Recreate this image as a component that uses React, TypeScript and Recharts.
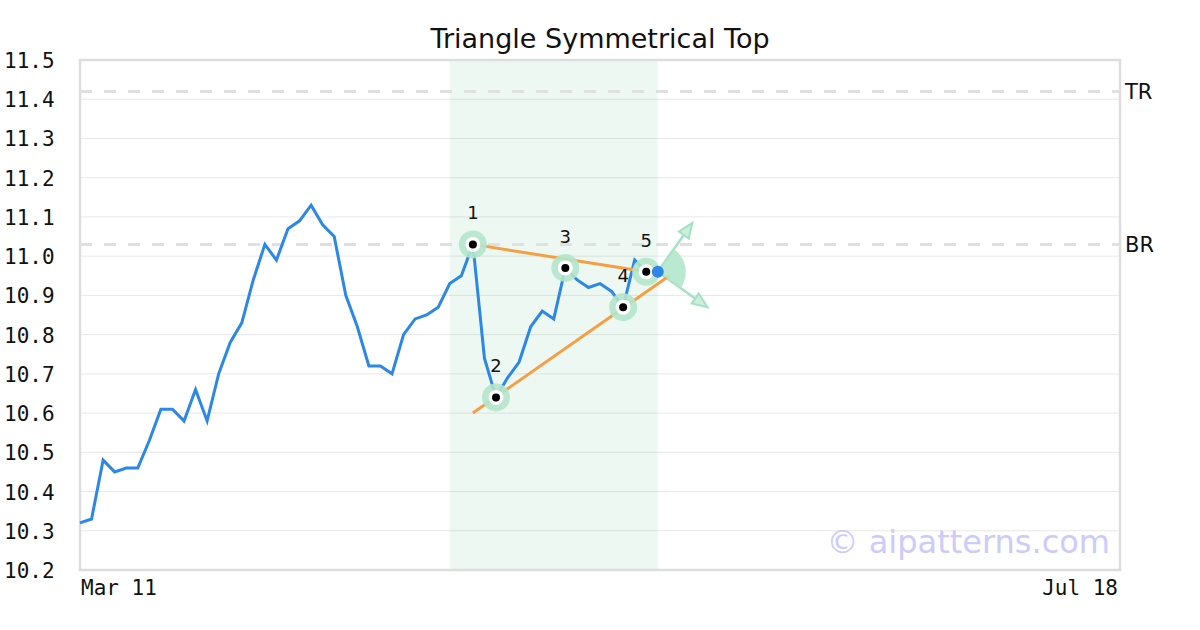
import {
  ComposedChart,
  Line,
  Scatter,
  XAxis,
  YAxis,
  CartesianGrid,
  ReferenceLine,
  ReferenceArea,
  ReferenceDot,
} from "recharts";

// closing prices, one per trading day from Mar 11
const prices = [
  10.32, 10.33, 10.48, 10.45, 10.46, 10.46, 10.53, 10.61, 10.61, 10.58, 10.66,
  10.58, 10.7, 10.78, 10.83, 10.94, 11.03, 10.99, 11.07, 11.09, 11.13, 11.08,
  11.05, 10.9, 10.82, 10.72, 10.72, 10.7, 10.8, 10.84, 10.85, 10.87, 10.93,
  10.95, 11.03, 10.74, 10.64, 10.69, 10.73, 10.82, 10.86, 10.84, 10.97, 10.94,
  10.92, 10.93, 10.91, 10.87, 10.99, 10.96, 10.96,
];
const lastIndex = 90;
const xTickLabels = ["Mar 11", "Jul 18"];
const yTicks = [
  10.2, 10.3, 10.4, 10.5, 10.6, 10.7, 10.8, 10.9, 11.0, 11.1, 11.2, 11.3, 11.4, 11.5,
];

const pivotIdx = [34, 36, 42, 47, 49];
const pivotVal = [11.03, 10.64, 10.97, 10.87, 10.96];
const pivotLabels = ["1", "2", "3", "4", "5"];

const upperLine = [
  { i: 34, v: 11.03 },
  { i: 49, v: 10.96 },
];
const lowerLine = [
  { i: 34, v: 10.6 },
  { i: 51, v: 10.95 },
];
const patternZone = [32, 50];
const topResistance = 11.42;
const bottomResistance = 11.03;
const breakout = { i: 50, v: 10.96 };
const arrowUp = { i: 53, v: 11.085 };
const arrowDown = { i: 54.3, v: 10.87 };

const priceData = prices.map((v, i) => ({ i, v }));
const pivots = pivotIdx.map((i, k) => ({ i, v: pivotVal[k], label: pivotLabels[k] }));

const MONO = "'DejaVu Sans Mono', monospace";
const SANS = "'DejaVu Sans', sans-serif";

const YTick = (p: any) => (
  <text x={4} y={p.y + 8} fontFamily={MONO} fontSize={21} fill="#111">
    {Number(p.payload.value).toFixed(1)}
  </text>
);

const XTick = (p: any) => {
  const first = p.payload.value === 0;
  return (
    <text
      x={first ? p.x + 1 : p.x - 2}
      y={p.y + 25}
      textAnchor={first ? "start" : "end"}
      fontFamily={MONO}
      fontSize={21}
      fill="#111"
    >
      {first ? xTickLabels[0] : xTickLabels[1]}
    </text>
  );
};

const PivotShape = (p: any) => (
  <g>
    <circle cx={p.cx} cy={p.cy} r={14} fill="#b3e5cb" fillOpacity={0.9} />
    <circle cx={p.cx} cy={p.cy} r={7.5} fill="#fff" />
    <circle cx={p.cx} cy={p.cy} r={4} fill="#000" />
    <text x={p.cx} y={p.cy - 25} textAnchor="middle" fontFamily={SANS} fontSize={18} fill="#111">
      {p.payload.label}
    </text>
  </g>
);

const BlueDot = (p: any) => <circle cx={p.cx} cy={p.cy} r={6} fill="#2b87e8" />;

const Wedge = (p: any) => {
  const r = 28;
  const a1 = (-54 * Math.PI) / 180;
  const a2 = (36 * Math.PI) / 180;
  const x1 = p.cx + r * Math.cos(a1);
  const y1 = p.cy + r * Math.sin(a1);
  const x2 = p.cx + r * Math.cos(a2);
  const y2 = p.cy + r * Math.sin(a2);
  return (
    <path
      d={`M${p.cx},${p.cy} L${x1},${y1} A${r},${r} 0 0 1 ${x2},${y2} Z`}
      fill="#b3e5cb"
      fillOpacity={0.9}
    />
  );
};

const Arrow = (p: any) => {
  const { x1, y1, x2, y2 } = p;
  const ang = Math.atan2(y2 - y1, x2 - x1);
  const len = 15;
  const half = 6;
  const bx = x2 - len * Math.cos(ang);
  const by = y2 - len * Math.sin(ang);
  const nx = -Math.sin(ang) * half;
  const ny = Math.cos(ang) * half;
  return (
    <g>
      <line x1={x1} y1={y1} x2={bx} y2={by} stroke="#a3e2c3" strokeWidth={2.5} />
      <path
        d={`M${x2},${y2} L${bx + nx},${by + ny} L${bx - nx},${by - ny} Z`}
        fill="#cdeedd"
        stroke="#a3e2c3"
        strokeWidth={2}
      />
    </g>
  );
};

export default function App() {
  return (
    <div style={{ position: "absolute", left: 0, top: 0, width: 1200, height: 630, background: "#fff" }}>
      <ComposedChart
        width={1200}
        height={630}
        data={priceData}
        margin={{ top: 60, right: 80, bottom: 0, left: 0 }}
      >
        <ReferenceArea
          x1={patternZone[0]}
          x2={patternZone[1]}
          y1={10.2}
          y2={11.5}
          fill="rgb(100,190,150)"
          fillOpacity={0.11}
          stroke="none"
        />
        <CartesianGrid vertical={false} stroke="#e8e8e8" strokeWidth={1} />
        <XAxis
          dataKey="i"
          type="number"
          domain={[0, lastIndex]}
          ticks={[0, lastIndex]}
          height={60}
          tickSize={0}
          tickMargin={0}
          axisLine={false}
          tickLine={false}
          tick={<XTick />}
        />
        <YAxis
          type="number"
          domain={[10.2, 11.5]}
          ticks={yTicks}
          width={80}
          axisLine={false}
          tickLine={false}
          tick={<YTick />}
        />
        <ReferenceLine
          y={topResistance}
          stroke="#e0e0e0"
          strokeWidth={3}
          strokeDasharray="12 12"
          label={{ value: "TR", position: "right", fill: "#111", fontSize: 21, fontFamily: SANS }}
        />
        <ReferenceLine
          y={bottomResistance}
          stroke="#e0e0e0"
          strokeWidth={3}
          strokeDasharray="12 12"
          label={{ value: "BR", position: "right", fill: "#111", fontSize: 21, fontFamily: SANS }}
        />
        <Line
          data={priceData}
          dataKey="v"
          type="linear"
          stroke="#2b87e8"
          strokeWidth={3}
          dot={false}
          isAnimationActive={false}
        />
        <ReferenceDot x={breakout.i} y={breakout.v} shape={<Wedge />} />
        <ReferenceLine
          segment={[
            { x: breakout.i, y: breakout.v },
            { x: arrowUp.i, y: arrowUp.v },
          ]}
          shape={<Arrow />}
        />
        <ReferenceLine
          segment={[
            { x: breakout.i, y: breakout.v },
            { x: arrowDown.i, y: arrowDown.v },
          ]}
          shape={<Arrow />}
        />
        <Line
          data={upperLine}
          dataKey="v"
          type="linear"
          stroke="#f59e42"
          strokeWidth={3}
          dot={false}
          isAnimationActive={false}
        />
        <Line
          data={lowerLine}
          dataKey="v"
          type="linear"
          stroke="#f59e42"
          strokeWidth={3}
          dot={false}
          isAnimationActive={false}
        />
        <Scatter data={pivots} dataKey="v" shape={<PivotShape />} isAnimationActive={false} />
        <Scatter data={[breakout]} dataKey="v" shape={<BlueDot />} isAnimationActive={false} />
        <ReferenceArea
          x1={0}
          x2={lastIndex}
          y1={10.2}
          y2={11.5}
          fill="none"
          stroke="#dddddd"
          strokeWidth={2.5}
        />
      </ComposedChart>
      <svg
        width={1200}
        height={630}
        style={{ position: "absolute", left: 0, top: 0, pointerEvents: "none" }}
      >
        <text x={600} y={48} textAnchor="middle" fontFamily={SANS} fontSize={27} fill="#111">
          Triangle Symmetrical Top
        </text>
        <text x={1110} y={553} textAnchor="end" fontFamily={SANS} fontSize={32} fill="#cccbfd">
          © aipatterns.com
        </text>
      </svg>
    </div>
  );
}
